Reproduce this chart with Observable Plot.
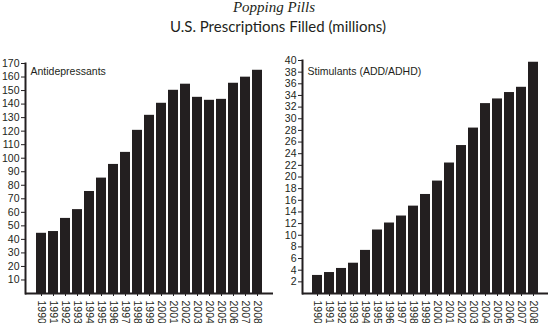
<!DOCTYPE html>
<html>
<head>
<meta charset="utf-8">
<script src="https://cdn.jsdelivr.net/npm/d3@7"></script>
<script src="https://cdn.jsdelivr.net/npm/@observablehq/plot@0.6"></script>
<style>
  html, body { margin: 0; padding: 0; background: #fff; }
  #wrap { position: relative; width: 548px; height: 323px; overflow: hidden; background: #fff; }
  #title { position: absolute; left: 0; top: 0; width: 548px; text-align: center;
           font: italic 15px "Liberation Serif", serif; line-height: 15px; color: #231f20; }
  #subtitle { position: absolute; left: 0; top: 19px; width: 548px; text-align: center;
           font: 15px Lato, sans-serif; line-height: 15px; color: #231f20; padding-left: 8px; box-sizing: border-box; }
  #left { position: absolute; left: 0; top: 45px; }
  #right { position: absolute; left: 274px; top: 45px; }
</style>
</head>
<body>
<div id="wrap">
  <div id="title">Popping Pills</div>
  <div id="subtitle">U.S. Prescriptions Filled (millions)</div>
  <div id="left"></div>
  <div id="right"></div>
</div>
<script>
const years = ["1990","1991","1992","1993","1994","1995","1996","1997","1998","1999",
               "2000","2001","2002","2003","2004","2005","2006","2007","2008"];
const antidepressants = [44.5, 45.8, 55.5, 62, 75.4, 85.3, 95.4, 104.3, 120.6, 131.7,
                         140.6, 150.2, 154.7, 145, 142.8, 143.5, 155.4, 159.9, 165];
const stimulants = [3.1, 3.6, 4.3, 5.2, 7.4, 10.9, 12.1, 13.3, 15.0, 17.0,
                    19.3, 22.4, 25.4, 28.4, 32.6, 33.4, 34.5, 35.4, 39.7];
const leftTicks = [10,20,30,40,50,60,70,80,90,100,110,120,130,140,150,160,170];
const rightTicks = [2,4,6,8,10,12,14,16,18,20,22,24,26,28,30,32,34,36,38,40];
const leftLabel = ["Antidepressants"];
const rightLabel = ["Stimulants (ADD/ADHD)"];

const ink = "#231f20";
const tickFont = { fontFamily: "'Liberation Sans', sans-serif", fontSize: "10.5px", color: ink, background: "#fff", overflow: "visible" };

function chart(values, yMax, ticks, label, opts) {
  const data = years.map((y, i) => ({ year: y, value: values[i] }));
  return Plot.plot({
    width: 274,
    height: 278,
    marginLeft: opts.marginLeft,
    marginRight: opts.marginRight,
    marginTop: opts.marginTop,
    marginBottom: 30,
    style: tickFont,
    x: { domain: years, paddingInner: 0.2, paddingOuter: opts.paddingOuter, label: null },
    y: { domain: [0, yMax], label: null },
    marks: [
      Plot.barY(data, { x: "year", y: "value", fill: ink }),
      Plot.ruleY([0], { stroke: ink, strokeWidth: 2 }),
      Plot.frame({ anchor: "left", stroke: ink, strokeWidth: 2 }),
      Plot.axisY({ ticks: ticks, tickSize: 4, tickPadding: 2, label: null, stroke: ink, fill: ink }),
      Plot.axisX({ tickRotate: 90, tickSize: 3, tickPadding: 4, label: null, stroke: ink, fill: ink }),
      Plot.text(label, { text: d => d, frameAnchor: "top-left", lineAnchor: "top", textAnchor: "start",
                         dx: 5, dy: opts.labelDy, fill: ink, fontSize: 10.5 })
    ]
  });
}

document.getElementById("left").appendChild(
  chart(antidepressants, 170, leftTicks, leftLabel,
        { marginLeft: 25, marginRight: 1, marginTop: 18, paddingOuter: 0.4, labelDy: 4 }));
document.getElementById("right").appendChild(
  chart(stimulants, 40, rightTicks, rightLabel,
        { marginLeft: 28, marginRight: 0, marginTop: 15, paddingOuter: 0.37, labelDy: 7 }));
</script>
</body>
</html>
